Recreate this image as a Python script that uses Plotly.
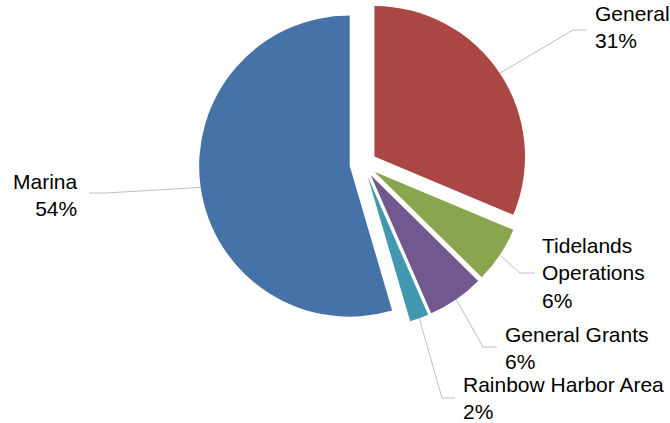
import math
import plotly.graph_objects as go

labels = ["General", "Tidelands<br>Operations", "General Grants", "Rainbow Harbor Area", "Marina"]
values = [31, 6, 6, 2, 54]
pct_text = ["31%", "6%", "6%", "2%", "54%"]
colors = ["#AA4643", "#89A54E", "#71588F", "#4198AF", "#4572A7"]

W, H = 670, 423
PULL = 0.09
dom_x = [0.285, 0.799]
dom_y = [0.224, 1.0]

# pie geometry in pixels (matches plotly's own layout of the domain)
cx = (dom_x[0] + dom_x[1]) / 2 * W
cy = H - (dom_y[0] + dom_y[1]) / 2 * H
R = min((dom_x[1] - dom_x[0]) * W, (dom_y[1] - dom_y[0]) * H) / (2 + 2 * PULL)

fig = go.Figure(go.Pie(
    labels=labels, values=values, sort=False, direction="clockwise", rotation=0,
    pull=[PULL] * len(values), marker=dict(colors=colors, line=dict(width=0)),
    textinfo="none", hoverinfo="label+percent", showlegend=False,
    domain=dict(x=dom_x, y=dom_y),
))

# label layout: (text anchor x, text center y, xanchor, elbow x, elbow y, end x)
label_layout = [
    (593, 27, "left", 573, 30, 586),
    (540, 273, "left", 520, 273, 535),
    (503, 348, "left", 483, 347, 497),
    (461, 398, "left", 442, 398, 455),
    (80, 195, "right", 105, 193, 89),
]

total = sum(values)
cum = 0
shapes = []
annotations = []
for i, v in enumerate(values):
    mid = (cum + v / 2) / total * 2 * math.pi
    cum += v
    dx, dy = math.sin(mid), -math.cos(mid)
    sx = cx + dx * R * (1 + PULL)
    sy = cy + dy * R * (1 + PULL)
    tx, ty, xa, ex, ey, fx = label_layout[i]
    path = f"M {sx / W},{1 - sy / H} L {ex / W},{1 - ey / H} L {fx / W},{1 - ey / H}"
    shapes.append(dict(type="path", path=path, xref="paper", yref="paper",
                       line=dict(color="#BFBFBF", width=1)))
    annotations.append(dict(
        x=tx / W, y=1 - ty / H, xref="paper", yref="paper",
        text=f"{labels[i]}<br>{pct_text[i]}", showarrow=False,
        xanchor=xa, yanchor="middle", align=xa,
        font=dict(family="Liberation Sans, Arial, sans-serif", size=21, color="#000000"),
    ))

fig.update_layout(
    width=W, height=H, margin=dict(l=0, r=0, t=0, b=0),
    paper_bgcolor="white", plot_bgcolor="white",
    shapes=shapes, annotations=annotations,
)

fig.write_html("out.html")
